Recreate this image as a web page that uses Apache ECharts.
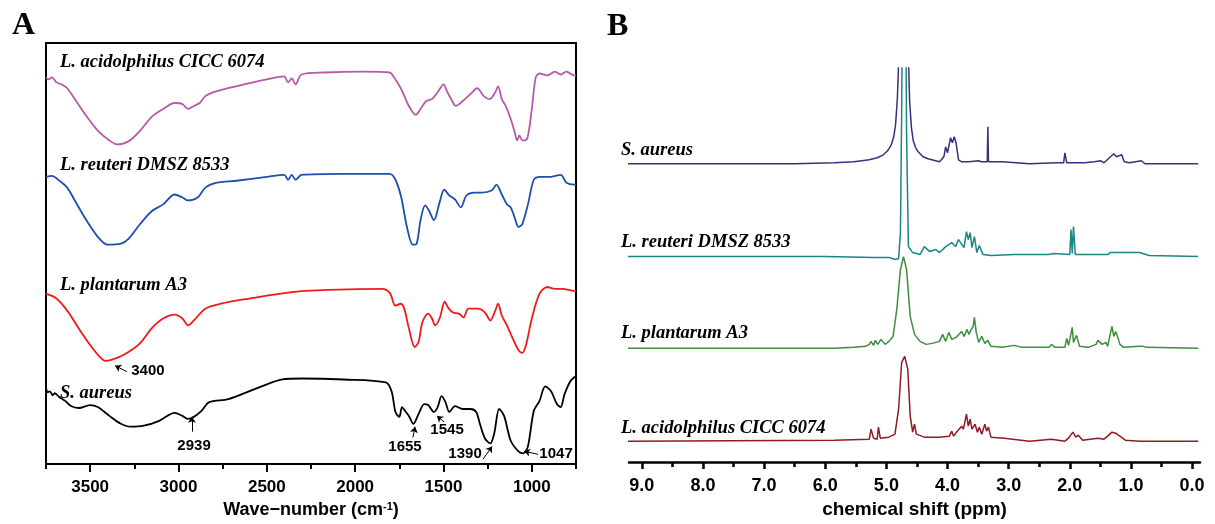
<!DOCTYPE html>
<html>
<head>
<meta charset="utf-8">
<script src="https://cdn.jsdelivr.net/npm/echarts@6.0.0/dist/echarts.min.js"></script>
<style>
html,body{margin:0;padding:0;background:#fff;}
#chart{width:1215px;height:524px;}
</style>
</head>
<body>
<div id="chart"></div>
<script>
// ---------- Panel A: FTIR (wavenumber cm-1, relative transmittance offset) ----------
const ftirAcidophilus = [[3750,393],[3735,391],[3717,393],[3690,388],[3663,386],[3630,382],[3587,371],[3522,354],[3457,339],[3391,329],[3348,325],[3283,328],[3217,339],[3152,353],[3087,361],[3022,367],[2978,366],[2946,361],[2913,364],[2880,367],[2848,374],[2783,379],[2674,384],[2500,391],[2402,394],[2380,388],[2359,392],[2337,386],[2304,396],[2174,398],[1957,399],[1804,398],[1783,394],[1739,381],[1696,364],[1657,355],[1630,361],[1598,369],[1565,371],[1533,378],[1500,386],[1478,378],[1457,371],[1430,364],[1391,369],[1348,376],[1309,382],[1272,374],[1239,371],[1207,378],[1191,384],[1170,371],[1148,364],[1120,351],[1098,338],[1083,329],[1070,334],[1054,329],[1026,331],[1000,361],[978,393],[957,397],[913,395],[869,399],[837,396],[804,399],[761,395],[750,395]];
const ftirReuteri = [[3750,292],[3717,293],[3674,288],[3630,281],[3587,268],[3522,248],[3457,231],[3402,223],[3326,224],[3283,229],[3217,244],[3152,257],[3087,264],[3022,274],[2978,271],[2946,268],[2891,271],[2848,281],[2783,286],[2674,288],[2500,292],[2402,294],[2380,289],[2359,294],[2337,289],[2304,294],[2065,295],[1804,295],[1772,289],[1739,271],[1707,241],[1674,223],[1652,224],[1630,248],[1604,263],[1583,258],[1554,248],[1522,266],[1496,279],[1467,273],[1435,269],[1402,261],[1370,273],[1326,276],[1283,276],[1228,278],[1200,284],[1170,274],[1141,264],[1120,261],[1098,251],[1076,241],[1054,244],[1022,264],[989,289],[957,292],[891,292],[837,294],[804,286],[761,284],[750,284]];
const ftirPlantarum = [[3750,173],[3696,169],[3630,156],[3565,138],[3500,121],[3446,109],[3413,105],[3348,108],[3283,114],[3217,123],[3152,138],[3087,148],[3022,152],[2978,148],[2946,141],[2913,146],[2848,158],[2761,163],[2609,168],[2391,174],[2283,176],[1848,178],[1804,174],[1772,161],[1743,163],[1722,158],[1696,138],[1663,119],[1641,124],[1620,144],[1587,153],[1565,148],[1548,141],[1522,148],[1493,165],[1474,159],[1446,154],[1413,153],[1387,149],[1359,158],[1304,158],[1265,154],[1235,146],[1207,156],[1191,163],[1170,151],[1141,141],[1109,128],[1076,116],[1054,113],[1033,121],[1000,148],[957,173],[913,180],[869,178],[826,178],[761,176],[750,176]];
const ftirAureus = [[3750,78],[3740,73],[3728,74],[3712,70],[3700,72],[3674,68],[3640,64],[3609,59],[3565,57],[3500,60],[3457,58],[3391,49],[3326,41],[3272,38],[3196,39],[3109,44],[3022,52],[2978,49],[2946,46],[2913,48],[2870,54],[2826,63],[2717,66],[2543,78],[2413,86],[2304,87],[2065,86],[1826,83],[1794,74],[1772,53],[1750,48],[1735,58],[1717,54],[1696,49],[1670,41],[1641,51],[1609,61],[1587,60],[1554,53],[1533,58],[1511,69],[1489,63],[1467,53],[1435,59],[1391,56],[1348,56],[1315,53],[1294,41],[1265,26],[1235,21],[1213,31],[1185,56],[1157,49],[1120,24],[1076,13],[1048,11],[1022,18],[989,54],[957,64],[924,79],[891,74],[858,61],[837,58],[815,71],[783,84],[761,88],[750,89]];
const ftirTicks = [1000,1500,2000,2500,3000,3500];
const ftirMinorTicks = [750,1250,1750,2250,2750,3250,3750];
const annotLabels = ['3400','2939','1655','1545','1390','1047'];
const annotTextAt = [[3173,95],[2912,19],[1718,18],[1480,35],[1378,10],[863,10]];
const annotArrowFrom = [[3292,94],[2924,33],[1673,27],[1497,43],[1276,5],[965,10]];
const annotArrowTo = [[3359,100],[2924,48],[1661,38],[1537,49],[1225,18],[1044,13]];

// ---------- Panel B: 1H NMR (ppm, intensity offset) ----------
const nmrAureus = [[9.23,299],[6.5,299],[5.85,300],[5.53,301],[5.28,303],[5.15,305],[5.05,308],[4.98,312],[4.92,318],[4.88,326],[4.85,338],[4.82,365],[4.80,400],[4.78,520],[4.70,620],[4.66,520],[4.64,410],[4.62,362],[4.59,335],[4.56,322],[4.52,315],[4.48,311],[4.40,306],[4.32,304],[4.13,301],[4.06,306],[4.03,316],[4.00,310],[3.95,325],[3.92,320],[3.89,326],[3.86,320],[3.82,303],[3.77,301],[3.65,301],[3.62,302],[3.49,302],[3.45,301],[3.35,301],[3.34,336],[3.33,301],[3.10,301],[3.07,302],[2.66,299],[2.21,300],[2.10,300],[2.08,310],[2.05,300],[1.76,300],[1.60,301],[1.49,302],[1.44,300],[1.28,309],[1.24,306],[1.15,308],[1.11,301],[1.02,300],[0.83,302],[0.77,299],[-0.10,299]];
const nmrReuteri = [[9.23,206],[6.0,206],[5.2,205],[4.95,205],[4.86,203],[4.80,204],[4.77,230],[4.75,350],[4.73,520],[4.69,520],[4.67,330],[4.64,216],[4.57,210],[4.45,208],[4.38,216],[4.35,218],[4.29,211],[4.19,213],[4.13,210],[4.03,216],[3.93,220],[3.87,216],[3.82,223],[3.73,215],[3.69,231],[3.66,223],[3.63,230],[3.60,215],[3.56,226],[3.52,210],[3.48,217],[3.42,208],[3.29,207],[2.91,208],[2.34,208],[2.27,209],[2.00,208],[1.98,233],[1.96,209],[1.94,236],[1.91,208],[1.38,208],[1.34,210],[0.86,210],[0.83,211],[0.70,207],[-0.10,206]];
const nmrPlantarum = [[9.23,114],[5.85,114],[5.53,115],[5.34,116],[5.28,118],[5.25,121],[5.21,117],[5.18,122],[5.14,118],[5.09,123],[5.02,118],[4.96,121],[4.89,126],[4.83,153],[4.77,193],[4.72,206],[4.67,193],[4.61,146],[4.54,128],[4.45,121],[4.35,118],[4.25,119],[4.13,121],[4.08,128],[4.03,121],[3.98,130],[3.93,123],[3.86,125],[3.77,131],[3.73,126],[3.68,133],[3.65,128],[3.62,132],[3.58,136],[3.56,145],[3.53,130],[3.49,120],[3.44,126],[3.39,119],[3.34,122],[3.29,116],[3.10,115],[2.91,117],[2.78,115],[2.53,115],[2.34,115],[2.30,118],[2.24,115],[2.08,115],[2.05,124],[2.02,117],[1.96,135],[1.94,120],[1.89,127],[1.84,116],[1.70,115],[1.57,118],[1.54,122],[1.47,118],[1.41,120],[1.38,116],[1.34,128],[1.31,136],[1.28,126],[1.25,131],[1.22,126],[1.18,118],[1.12,115],[0.86,116],[0.80,116],[0.74,115],[-0.10,114]];
const nmrAcidophilus = [[9.23,21],[5.85,22],[5.28,23],[5.25,33],[5.21,24],[5.15,23],[5.13,35],[5.10,24],[4.96,25],[4.86,28],[4.80,53],[4.75,100],[4.70,106],[4.65,93],[4.61,46],[4.57,30],[4.54,38],[4.51,28],[4.38,25],[4.13,25],[3.97,26],[3.93,31],[3.90,26],[3.84,31],[3.77,36],[3.74,33],[3.69,48],[3.66,36],[3.63,43],[3.60,33],[3.55,38],[3.51,30],[3.48,35],[3.44,28],[3.39,38],[3.36,31],[3.33,35],[3.29,25],[3.07,24],[2.66,21],[2.30,23],[2.08,21],[2.02,24],[1.95,30],[1.90,25],[1.86,27],[1.79,22],[1.54,24],[1.44,23],[1.38,26],[1.31,30],[1.28,31],[1.25,29],[1.18,26],[1.09,22],[0.86,21],[-0.10,21]];
const nmrTicks = [0,1,2,3,4,5,6,7,8,9];
const nmrMinorTicks = [0.5,1.5,2.5,3.5,4.5,5.5,6.5,7.5,8.5];

const ftirNames = ['L. acidolphilus CICC 6074','L. reuteri DMSZ 8533','L. plantarum A3','S. aureus'];
const nmrNames = ['S. aureus','L. reuteri DMSZ 8533','L. plantarum A3','L. acidolphilus CICC 6074'];

const SANS = '"Liberation Sans", Arial, sans-serif';
const SERIF = '"Liberation Serif", "Times New Roman", serif';

const chart = echarts.init(document.getElementById('chart'), null, {renderer:'canvas'});

function lineSeries(data, color, xi, yi, width, smooth){
  return {type:'line', data:data, xAxisIndex:xi, yAxisIndex:yi, showSymbol:false, symbol:'none',
    smooth:smooth, lineStyle:{color:color, width:width}, clip:true, silent:true, z:3};
}

const seriesNameStyle = 'italic bold 18.5px ' + SERIF;
function nameText(txt, x, y){
  return {type:'text', x:x, y:y, style:{text:txt, font:seriesNameStyle, fill:'#000',
    align:'left', verticalAlign:'middle', textAlign:'left', textVerticalAlign:'middle'}};
}

const option = {
  animation:false,
  backgroundColor:'#fff',
  grid:[
    {left:46, right:639, top:43, bottom:53, show:true, borderColor:'#000', borderWidth:2, backgroundColor:'transparent'},
    {left:629, right:15, top:68, bottom:61}
  ],
  xAxis:[
    {gridIndex:0, type:'value', inverse:true, min:750, max:3750, position:'bottom',
     name:'Wave\u2212number (cm{sup|-1})', nameLocation:'middle', nameGap:35,
     nameTextStyle:{fontFamily:SANS, fontSize:18, fontWeight:'bold', color:'#000',
       rich:{sup:{fontFamily:SANS, fontSize:11, fontWeight:'bold', color:'#000', verticalAlign:'top', lineHeight:12, padding:[0,0,6,0]}}},
     axisLine:{show:true, lineStyle:{color:'#000', width:2}},
     axisTick:{show:true, inside:false, length:8, lineStyle:{color:'#000', width:2}, customValues:ftirTicks},
     axisLabel:{show:true, margin:15, fontFamily:SANS, fontSize:17, fontWeight:'bold', color:'#000', customValues:ftirTicks,
       formatter:function(v){return String(Math.round(v));}},
     splitLine:{show:false}},
    {gridIndex:0, type:'value', inverse:true, min:750, max:3750, position:'bottom',
     axisLine:{show:false}, axisLabel:{show:false},
     axisTick:{show:true, length:5, lineStyle:{color:'#000', width:2}, customValues:ftirMinorTicks},
     splitLine:{show:false}},
    {gridIndex:1, type:'value', inverse:true, min:-0.13, max:9.21, position:'bottom',
     name:'chemical shift (ppm)', nameLocation:'middle', nameGap:36,
     nameTextStyle:{fontFamily:SANS, fontSize:19, fontWeight:'bold', color:'#000'},
     axisLine:{show:true, lineStyle:{color:'#000', width:2.5}},
     axisTick:{show:true, length:7, lineStyle:{color:'#000', width:2.5}, customValues:nmrTicks},
     axisLabel:{show:true, margin:15, fontFamily:SANS, fontSize:18, fontWeight:'bold', color:'#000',
       customValues:nmrTicks, formatter:function(v){return Number(v).toFixed(1);}},
     splitLine:{show:false}},
    {gridIndex:1, type:'value', inverse:true, min:-0.13, max:9.21, position:'bottom',
     axisLine:{show:false}, axisLabel:{show:false},
     axisTick:{show:true, length:5, lineStyle:{color:'#000', width:2.5}, customValues:nmrMinorTicks},
     splitLine:{show:false}}
  ],
  yAxis:[
    {gridIndex:0, type:'value', min:0, max:428, show:false},
    {gridIndex:1, type:'value', min:0, max:395, show:false}
  ],
  series:[
    lineSeries(ftirAcidophilus, '#b45aa8', 0, 0, 1.8, 0.3),
    lineSeries(ftirReuteri, '#1f4eaf', 0, 0, 1.8, 0.3),
    lineSeries(ftirPlantarum, '#ee1b1b', 0, 0, 1.8, 0.3),
    lineSeries(ftirAureus, '#000000', 0, 0, 1.8, 0.3),
    lineSeries(nmrAureus, '#3b2e7e', 2, 1, 1.5, false),
    lineSeries(nmrReuteri, '#1a8783', 2, 1, 1.5, false),
    lineSeries(nmrPlantarum, '#3e8e3b', 2, 1, 1.5, false),
    lineSeries(nmrAcidophilus, '#8e1b25', 2, 1, 1.5, false),
    {type:'scatter', xAxisIndex:0, yAxisIndex:0, symbol:'circle', symbolSize:1, silent:true, clip:false,
     itemStyle:{color:'rgba(0,0,0,0)'},
     data:annotLabels.map(function(t,i){return [annotTextAt[i][0], annotTextAt[i][1], t];}),
     label:{show:true, position:'inside', formatter:function(p){return p.value[2];},
       fontFamily:SANS, fontSize:15, fontWeight:'bold', color:'#000', opacity:1,
       textBorderWidth:0, textBorderColor:'transparent', textShadowBlur:0}, z:5},
    {type:'lines', coordinateSystem:'cartesian2d', xAxisIndex:0, yAxisIndex:0, silent:true,
     symbol:['none','arrow'], symbolSize:6,
     lineStyle:{color:'#000', width:1, opacity:1, curveness:0},
     data:annotLabels.map(function(t,i){return {coords:[annotArrowFrom[i], annotArrowTo[i]]};}), z:5}
  ],
  graphic:[
    {type:'text', x:12, y:26, style:{text:'A', font:'bold 32px ' + SERIF, fill:'#000', align:'left', verticalAlign:'middle', textAlign:'left', textVerticalAlign:'middle'}},
    {type:'text', x:607, y:27, style:{text:'B', font:'bold 32px ' + SERIF, fill:'#000', align:'left', verticalAlign:'middle', textAlign:'left', textVerticalAlign:'middle'}},
    nameText(ftirNames[0], 60, 62),
    nameText(ftirNames[1], 60, 165),
    nameText(ftirNames[2], 60, 285),
    nameText(ftirNames[3], 60, 393),
    nameText(nmrNames[0], 621, 150),
    nameText(nmrNames[1], 621, 242),
    nameText(nmrNames[2], 621, 333),
    nameText(nmrNames[3], 621, 428)
  ]
};
chart.setOption(option);
</script>
</body>
</html>
